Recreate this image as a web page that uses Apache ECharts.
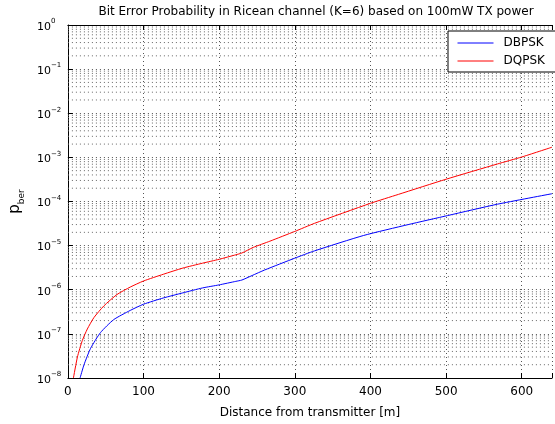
<!DOCTYPE html>
<html>
<head>
<meta charset="utf-8">
<script src="https://cdn.jsdelivr.net/npm/echarts@6/dist/echarts.min.js"></script>
<style>
html, body { margin: 0; padding: 0; background: #fff; }
#chart { width: 555px; height: 424px; }
</style>
</head>
<body>
<div id="chart"></div>
<script>
// values
var dbpskDist = [16.1, 21.3, 30, 43.1, 60.5, 82.4, 100, 126, 152, 178, 200, 222, 230, 243.5, 260, 300, 326, 391, 450, 502, 568, 640];
var dbpskBer = [1.0e-8, 2.0e-8, 4.7e-8, 1.07e-7, 2.1e-7, 3.4e-7, 4.7e-7, 6.5e-7, 8.5e-7, 1.1e-6, 1.29e-6, 1.55e-6, 1.66e-6, 2.1e-6, 2.8e-6, 5.2e-6, 7.6e-6, 1.7e-5, 3.0e-5, 4.8e-5, 8.7e-5, 1.5e-4];
var dqpskDist = [7.3, 12.6, 19.1, 25.7, 34.4, 47.5, 64.9, 82.4, 100, 126, 152, 178, 200, 222, 230, 245, 267, 300, 326, 400, 437, 500, 568, 600, 640];
var dqpskBer = [1.0e-8, 3.0e-8, 7.1e-8, 1.29e-7, 2.34e-7, 4.3e-7, 7.8e-7, 1.15e-6, 1.58e-6, 2.24e-6, 3.1e-6, 4.0e-6, 4.9e-6, 6.2e-6, 6.8e-6, 9.1e-6, 1.26e-5, 2.1e-5, 3.2e-5, 9.1e-5, 1.45e-4, 3.2e-4, 7.1e-4, 1.02e-3, 1.7e-3];

var seriesNames = ['DBPSK', 'DQPSK'];
var seriesColors = ['#0000ff', '#ff0000'];
var decadeExps = [-8, -7, -6, -5, -4, -3, -2, -1];
var minorSteps = [2, 3, 4, 5, 6, 7, 8, 9];
var xMin = 0, xMax = 640;

var FONT = '"DejaVu Sans", Arial, sans-serif';
var DOT = [1, 3];

function pairs(xs, ys) {
    var out = [];
    for (var i = 0; i < xs.length; i++) {
        out.push([xs[i], ys[i]]);
    }
    return out;
}

function drawChart(divId) {
    var dom = document.getElementById(divId);
    var chart = echarts.init(dom);

    // MATLAB style minor grid: 2..9 x 10^n, one broken line series
    var minorLines = [];
    for (var i = 0; i < decadeExps.length; i++) {
        for (var j = 0; j < minorSteps.length; j++) {
            var v = minorSteps[j] * Math.pow(10, decadeExps[i]);
            minorLines.push([xMin, v], [xMax, v], ['-', '-']);
        }
    }

    var option = {
        backgroundColor: '#fff',
        animation: false,
        textStyle: { fontFamily: FONT },
        title: {
            text: 'Bit Error Probability in Ricean channel (K=6) based on 100mW TX power',
            left: 311,
            textAlign: 'center',
            top: 1,
            textStyle: { fontSize: 12, fontWeight: 'normal', color: '#000', fontFamily: FONT }
        },
        legend: {
            orient: 'vertical',
            left: 448,
            top: 31,
            padding: [6, 20, 5, 9],
            itemWidth: 36,
            itemHeight: 10,
            itemGap: 6,
            backgroundColor: '#fff',
            borderColor: '#000',
            borderWidth: 1,
            borderRadius: 0,
            itemStyle: { opacity: 0 },
            lineStyle: { width: 1 },
            textStyle: { fontSize: 12, color: '#000', fontFamily: FONT, padding: [0, 0, 0, 5] },
            data: seriesNames
        },
        grid: {
            left: 66,
            top: 25,
            right: 0,
            bottom: 41
        },
        xAxis: [{
            type: 'value',
            min: xMin,
            max: xMax,
            interval: 100,
            name: 'Distance from transmitter [m]',
            nameLocation: 'middle',
            nameGap: 29,
            nameTextStyle: { fontSize: 12, color: '#000', fontFamily: FONT },
            axisLine: { lineStyle: { color: '#000', width: 1 } },
            axisTick: { inside: true, length: 5, lineStyle: { color: '#000' } },
            axisLabel: {
                fontSize: 12,
                color: '#000',
                margin: 8,
                fontFamily: FONT,
                formatter: function (v) { return v % 100 === 0 ? String(v) : ''; }
            },
            splitLine: { show: true, lineStyle: { type: DOT, color: '#555', width: 1 } }
        }, {
            type: 'value',
            position: 'top',
            min: xMin,
            max: xMax,
            interval: 100,
            axisLine: { show: true, lineStyle: { color: '#000', width: 1 } },
            axisTick: { show: true, inside: true, length: 5, lineStyle: { color: '#000' } },
            axisLabel: { show: false },
            splitLine: { show: false }
        }],
        yAxis: {
            type: 'log',
            logBase: 10,
            min: 1e-8,
            max: 1,
            splitNumber: 8,
            name: '{p|p}{s|ber}',
            nameLocation: 'middle',
            nameGap: 38,
            nameTextStyle: {
                color: '#000',
                rich: {
                    p: { fontSize: 15, fontFamily: FONT, color: '#000', verticalAlign: 'bottom', padding: [0, 0, 3, 0] },
                    s: { fontSize: 9, fontFamily: FONT, color: '#000', verticalAlign: 'bottom' }
                }
            },
            axisLine: { show: true, lineStyle: { color: '#000', width: 1 } },
            axisTick: { inside: true, length: 5, lineStyle: { color: '#000' } },
            axisLabel: {
                align: 'left',
                margin: 31,
                formatter: function (v) {
                    var e = Math.round(Math.log(v) / Math.LN10);
                    var s = e < 0 ? '\u2212' + (-e) : String(e);
                    return '{b|10}{e|' + s + '}';
                },
                rich: {
                    b: { fontSize: 11, fontFamily: FONT, color: '#000', padding: [4, 0, 0, 0] },
                    e: { fontSize: 7, fontFamily: FONT, color: '#000', padding: [0, 0, 7, 0] }
                }
            },
            splitLine: { show: true, lineStyle: { type: DOT, color: '#555', width: 1 } }
        },
        series: [{
            name: 'minor grid',
            type: 'line',
            data: minorLines,
            symbol: 'none',
            silent: true,
            connectNulls: false,
            z: 1,
            lineStyle: { type: DOT, color: '#666', width: 1 },
            emphasis: { disabled: true }
        }]
    };

    var xs = [dbpskDist, dqpskDist];
    var ys = [dbpskBer, dqpskBer];
    for (var k = 0; k < seriesNames.length; k++) {
        option.series.push({
            name: seriesNames[k],
            type: 'line',
            data: pairs(xs[k], ys[k]),
            symbol: 'none',
            smooth: 0.2,
            z: 5,
            lineStyle: { color: seriesColors[k], width: 1 },
            itemStyle: { color: seriesColors[k] }
        });
    }

    chart.setOption(option);
    window.addEventListener('resize', function () {
        chart.resize();
    });
}

drawChart('chart');
</script>
</body>
</html>
